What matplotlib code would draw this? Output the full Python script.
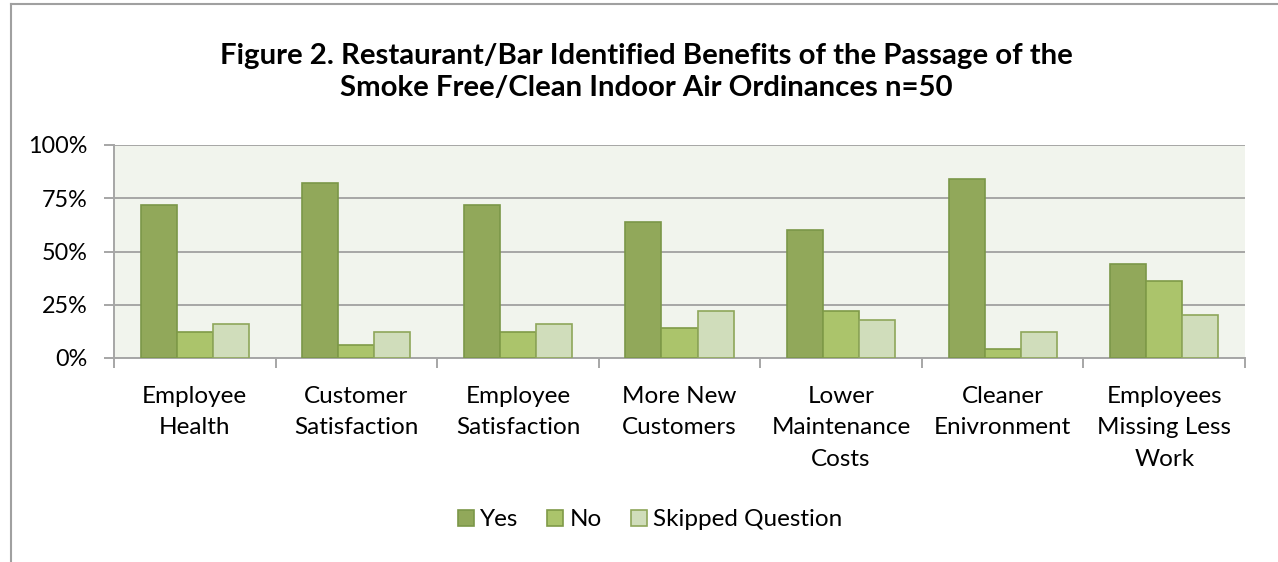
import numpy as np
import matplotlib
matplotlib.use("Agg")
import matplotlib.pyplot as plt
from matplotlib.lines import Line2D
from matplotlib.patches import Patch

plt.rcParams["font.family"] = ["Lato", "DejaVu Sans"]

# Data
categories = [
    "Employee\nHealth",
    "Customer\nSatisfaction",
    "Employee\nSatisfaction",
    "More New\nCustomers",
    "Lower\nMaintenance\nCosts",
    "Cleaner\nEnivronment",
    "Employees\nMissing Less\nWork",
]
yes_vals = [72, 82, 72, 64, 60, 84, 44]
no_vals = [12, 6, 12, 14, 22, 4, 36]
skipped_vals = [16, 12, 16, 22, 18, 12, 20]
series_names = ["Yes", "No", "Skipped Question"]
y_ticks = [0, 25, 50, 75, 100]
y_tick_labels = ["0%", "25%", "50%", "75%", "100%"]

title = ("Figure 2. Restaurant/Bar Identified Benefits of the Passage of the\n"
         "Smoke Free/Clean Indoor Air Ordinances n=50")

# Styles
fills = ["#91a85a", "#abc46b", "#d0ddbb"]
edges = ["#7b9748", "#7f9a48", "#8ea65a"]
grid_color = "#a6a6a6"
bg_color = "#f1f4ed"
bar_w = 0.223

fig = plt.figure(figsize=(12.78, 5.62), dpi=100)
ax = fig.add_axes([114 / 1278, 1 - 358 / 562, (1245 - 114) / 1278, (358 - 145) / 562])
ax.set_facecolor(bg_color)

x = np.arange(len(categories))
for i, vals in enumerate([yes_vals, no_vals, skipped_vals]):
    ax.bar(x + (i - 1) * bar_w, vals, width=bar_w, color=fills[i],
           edgecolor=edges[i], linewidth=1.2, zorder=3)

ax.set_xlim(-0.5, len(categories) - 0.5)
ax.set_ylim(0, 100)
ax.set_yticks(y_ticks)
ax.set_yticklabels(y_tick_labels, fontsize=16.8)
ax.yaxis.grid(True, color=grid_color, linewidth=1.4, zorder=1)
ax.set_axisbelow(True)

ax.set_xticks(x)
ax.set_xticklabels(categories, fontsize=17.5, linespacing=1.62)
ax.set_xticks(np.arange(len(categories) + 1) - 0.5, minor=True)
ax.tick_params(axis="x", which="major", length=0, pad=20)
ax.tick_params(axis="x", which="minor", length=7, width=1.4, color=grid_color)
ax.tick_params(axis="y", length=7, width=1.4, color=grid_color, pad=12)

for s in ["top", "right"]:
    ax.spines[s].set_visible(False)
for s in ["left", "bottom"]:
    ax.spines[s].set_color(grid_color)
    ax.spines[s].set_linewidth(1.4)

fig.text(0.506, 1 - 72 / 562, title, ha="center", va="center",
         fontsize=21.2, fontweight="bold", linespacing=1.27)

handles = [Patch(facecolor=fills[i], edgecolor=edges[i], linewidth=1.2)
           for i in range(3)]
fig.legend(handles, series_names, loc="center", bbox_to_anchor=(0.5086, 1 - 520 / 562),
           ncol=3, frameon=False, fontsize=17.5, handlelength=0.65, handleheight=0.65,
           handletextpad=0.25, columnspacing=1.2)

# chart frame (cut off at right and bottom)
fig.add_artist(Line2D([11 / 1278, 1], [1 - 4 / 562, 1 - 4 / 562], color="#a0a0a0",
                      linewidth=1.5, transform=fig.transFigure))
fig.add_artist(Line2D([11 / 1278, 11 / 1278], [0, 1 - 4 / 562], color="#a0a0a0",
                      linewidth=1.5, transform=fig.transFigure))

fig.savefig("out.png", dpi=100)
